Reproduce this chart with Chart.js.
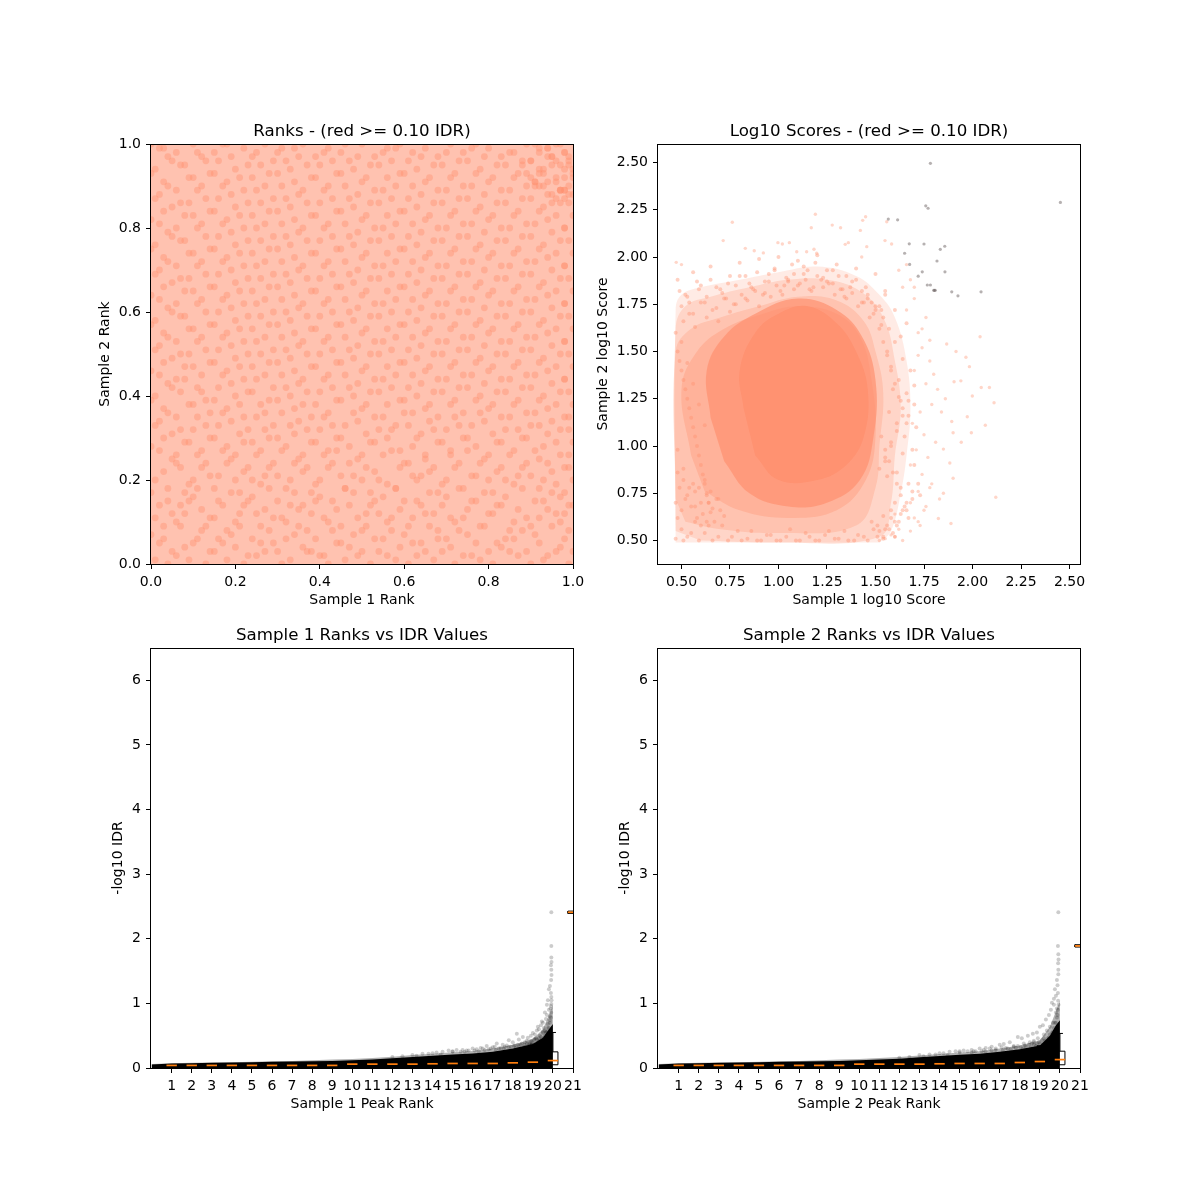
<!DOCTYPE html>
<html><head><meta charset="utf-8">
<style>html,body{margin:0;background:#fff}canvas{position:absolute}</style>
<script src="https://cdn.jsdelivr.net/npm/chart.js@4"></script></head>
<body>
<canvas id="c1" width="590" height="510" style="left:0;top:100px"></canvas>
<canvas id="c2" width="590" height="510" style="left:507px;top:100px"></canvas>
<canvas id="c3" width="590" height="510" style="left:0;top:604px"></canvas>
<canvas id="c4" width="590" height="510" style="left:507px;top:604px"></canvas>
<script>
// ---------- Panel 1: ranks, in percent (sample of the texture) ----------
const rankXPct=[
1,4,6,9,13,15,18,22,25,27,31,33,37,40,42,46,49,52,54,58,61,63,67,69,72,76,78,81,85,87,90,93,96,99,
2,5,8,11,14,17,20,23,26,30,32,36,38,41,45,47,50,53,56,59,62,65,68,71,74,77,80,83,86,89,92,94,97,100,
0,3,7,10,12,16,19,21,24,28,29,34,35,39,43,44,48,51,55,57,60,64,66,70,73,75,79,82,84,88,91,95,98,99,
1,3,6,8,13,14,18,20,25,26,31,32,37,38,42,45,49,50,54,56,61,62,67,68,72,74,78,80,85,86,90,92,96,97,
2,5,9,12,15,17,21,23,27,29,33,35,39,41,44,47,51,53,57,59,63,65,69,71,75,77,81,83,87,89,93,94,98,100,
0,4,7,10,11,16,19,22,24,28,30,34,36,40,43,46,48,52,55,58,60,64,66,70,73,76,79,82,84,88,91,95,97,99,
1,4,8,9,14,15,20,21,26,27,32,33,38,39,45,46,50,52,56,58,62,63,68,69,74,76,80,81,86,87,92,93,96,98,
3,6,10,12,16,18,22,24,28,30,34,36,40,42,47,48,53,54,59,60,64,66,70,72,77,78,82,84,88,90,94,95,99,100,
2,5,7,11,13,17,19,23,25,29,31,35,37,41,43,44,49,51,55,57,61,65,67,71,73,75,79,83,85,89,91,92,97,98,
0,3,6,9,12,14,18,20,24,26,30,32,36,38,42,45,47,50,53,56,59,62,65,68,71,74,77,80,83,86,89,93,96,99,
1,5,8,10,15,16,21,22,27,28,33,34,39,40,44,46,51,52,57,58,63,64,69,70,75,76,81,82,87,88,92,94,97,100,
2,4,7,11,13,17,19,23,25,29,31,35,37,41,43,48,49,54,55,60,61,66,67,72,73,78,79,84,85,90,91,95,98,99,
0,3,6,10,14,15,18,22,26,27,30,34,38,39,42,45,50,53,56,59,62,65,68,71,74,77,80,83,86,89,92,94,96,99,
1,5,9,12,13,16,20,21,24,28,32,33,36,40,44,47,48,51,54,57,60,63,66,69,72,75,78,81,84,87,90,93,97,100,
2,4,7,8,11,17,19,23,25,29,31,35,37,41,43,46,49,52,55,58,61,64,67,70,73,76,79,82,85,88,91,95,98,99,
0,3,6,10,12,15,18,22,24,27,30,34,36,39,42,45,50,53,56,59,62,65,68,71,74,77,80,83,86,89,92,94,96,98,
1,5,8,9,14,16,20,21,26,28,32,33,38,40,44,47,48,51,54,57,60,63,66,69,72,75,78,81,84,87,90,93,97,100,
2,4,7,11,13,17,19,23,25,29,31,35,37,41,43,46,49,52,55,58,61,64,67,70,73,76,79,82,85,88,91,95,98,99,
0,3,6,10,12,15,18,22,24,27,30,34,36,39,42,45,50,53,56,59,62,65,68,71,74,77,80,83,86,89,92,94,96,98,
1,5,9,8,14,16,20,21,26,28,32,33,38,40,44,47,48,51,54,57,60,63,66,69,72,75,78,81,84,87,90,93,97,100,
2,4,7,11,13,17,19,23,25,29,31,35,37,41,43,46,49,52,55,58,61,64,67,70,73,76,79,82,85,88,91,95,98,99,
0,3,6,10,12,15,18,22,24,27,30,34,36,39,42,45,50,53,56,59,62,65,68,71,74,77,80,83,86,89,92,94,96,98,
1,5,8,9,14,16,20,21,26,28,32,33,38,40,44,47,48,51,54,57,60,63,66,69,72,75,78,81,84,87,90,93,97,100,
2,4,7,11,13,17,19,23,25,29,31,35,37,41,43,46,49,52,55,58,61,64,67,70,73,76,79,82,85,88,91,95,98,99,
0,3,6,10,12,15,18,22,24,27,30,34,36,39,42,45,50,53,56,59,62,65,68,71,74,77,80,83,86,89,92,94,96,98,
1,5,9,8,14,16,20,21,26,28,32,33,38,40,44,47,48,51,54,57,60,63,66,69,72,75,78,81,84,87,90,93,97,100,
2,4,7,11,13,17,19,23,25,29,31,35,37,41,43,46,49,52,55,58,61,64,67,70,73,76,79,82,85,88,91,95,98,99,
0,3,6,10,12,15,18,22,24,27,30,34,36,39,42,45,50,53,56,59,62,65,68,71,74,77,80,83,86,89,92,94,96,98,
1,5,8,9,14,16,20,21,26,28,32,33,38,40,44,47,48,51,54,57,60,63,66,69,72,75,78,81,84,87,90,93,97,100,
2,4,7,11,13,17,19,23,25,29,31,35,37,41,43,46,49,52,55,58,61,64,67,70,73,76,79,82,85,88,91,95,98,99,
0,3,6,10,12,15,18,22,24,27,30,34,36,39,42,45,50,53,56,59,62,65,68,71,74,77,80,83,86,89,92,94,96,98,
1,5,9,8,14,16,20,21,26,28,32,33,38,40,44,47,48,51,54,57,60,63,66,69,72,75,78,81,84,87,90,93,97,100,
2,4,7,11,13,17,19,23,25,29,31,35,37,41,43,46,49,52,55,58,61,64,67,70,73,76,79,82,85,88,91,95,98,99,
0,3,6,10,12,15,18,22,24,27,30,34,36,39,42,45,50,53,56,59,62,65,68,71,74,77,80,83,86,89,92,94,96,98,
90,92,94,96,97,98,99,100,93,95,97,99,91,94,96,98,100,92,95,97,89,93,96,99,88,91,94,98,100,97,95,92,99,90];
const rankYPct=[
1,0,2,1,0,3,1,0,2,3,0,1,3,2,0,1,2,0,3,1,0,2,1,3,0,2,1,0,3,2,0,1,3,0,
5,3,4,6,3,5,4,2,5,3,6,4,3,2,5,4,3,6,2,4,5,3,6,4,2,5,3,4,6,3,5,2,4,3,
7,6,9,5,8,6,7,9,6,8,5,7,9,6,8,5,7,9,6,8,7,5,9,6,8,7,9,5,6,8,7,9,6,8,
11,9,10,12,9,11,8,10,12,9,11,10,8,12,10,9,11,8,12,10,9,11,12,8,10,11,9,12,8,10,9,11,12,10,
14,12,15,13,11,14,12,15,13,11,14,13,15,11,13,14,12,15,11,13,15,12,14,11,13,15,12,14,13,11,15,13,12,14,
17,15,14,16,18,15,17,14,16,18,15,17,14,16,15,18,17,14,16,18,15,14,17,16,18,15,17,14,16,18,15,17,16,14,
20,18,17,19,21,18,20,17,19,21,18,20,17,19,21,18,20,17,19,18,21,20,17,19,18,21,20,17,19,21,18,20,19,17,
22,24,20,23,21,24,22,20,23,21,24,22,20,23,24,21,22,20,23,24,21,22,20,23,21,24,22,20,23,21,24,22,23,20,
27,25,23,26,24,27,25,23,26,24,27,25,23,26,24,27,25,23,26,27,24,25,23,26,24,27,25,23,26,24,27,25,26,23,
28,30,26,29,27,30,28,26,29,27,30,28,26,29,27,30,28,26,29,30,27,28,26,29,27,30,28,26,29,27,30,28,29,26,
33,31,29,32,30,33,31,29,32,30,33,31,29,32,30,33,31,29,32,33,30,31,29,32,30,33,31,29,32,30,33,31,32,29,
34,36,32,35,33,36,34,32,35,33,36,34,32,35,33,36,34,32,35,36,33,34,32,35,33,36,34,32,35,33,36,34,35,32,
39,37,35,38,36,39,37,35,38,36,39,37,35,38,36,39,37,35,38,39,36,37,35,38,36,39,37,35,38,36,39,37,38,35,
40,42,38,41,39,42,40,38,41,39,42,40,38,41,39,42,40,38,41,42,39,40,38,41,39,42,40,38,41,39,42,40,41,38,
45,43,41,44,42,45,43,41,44,42,45,43,41,44,42,45,43,41,44,45,42,43,41,44,42,45,43,41,44,42,45,43,44,41,
46,48,44,47,45,48,46,44,47,45,48,46,44,47,45,48,46,44,47,48,45,46,44,47,45,48,46,44,47,45,48,46,47,44,
51,49,47,50,48,51,49,47,50,48,51,49,47,50,48,51,49,47,50,51,48,49,47,50,48,51,49,47,50,48,51,49,50,47,
52,54,50,53,51,54,52,50,53,51,54,52,50,53,51,54,52,50,53,54,51,52,50,53,51,54,52,50,53,51,54,52,53,50,
57,55,53,56,54,57,55,53,56,54,57,55,53,56,54,57,55,53,56,57,54,55,53,56,54,57,55,53,56,54,57,55,56,53,
58,60,56,59,57,60,58,56,59,57,60,58,56,59,57,60,58,56,59,60,57,58,56,59,57,60,58,56,59,57,60,58,59,56,
63,61,59,62,60,63,61,59,62,60,63,61,59,62,60,63,61,59,62,63,60,61,59,62,60,63,61,59,62,60,63,61,62,59,
64,66,62,65,63,66,64,62,65,63,66,64,62,65,63,66,64,62,65,66,63,64,62,65,63,66,64,62,65,63,66,64,65,62,
69,67,65,68,66,69,67,65,68,66,69,67,65,68,66,69,67,65,68,69,66,67,65,68,66,69,67,65,68,66,69,67,68,65,
70,72,68,71,69,72,70,68,71,69,72,70,68,71,69,72,70,68,71,72,69,70,68,71,69,72,70,68,71,69,72,70,71,68,
75,73,71,74,72,75,73,71,74,72,75,73,71,74,72,75,73,71,74,75,72,73,71,74,72,75,73,71,74,72,75,73,74,71,
76,78,74,77,75,78,76,74,77,75,78,76,74,77,75,78,76,74,77,78,75,76,74,77,75,78,76,74,77,75,78,76,77,74,
81,79,77,80,78,81,79,77,80,78,81,79,77,80,78,81,79,77,80,81,78,79,77,80,78,81,79,77,80,78,81,79,80,77,
82,84,80,83,81,84,82,80,83,81,84,82,80,83,81,84,82,80,83,84,81,82,80,83,81,84,82,80,83,81,84,82,83,80,
87,85,83,86,84,87,85,83,86,84,87,85,83,86,84,87,85,83,86,87,84,85,83,86,84,87,85,83,86,84,87,85,86,83,
88,90,86,89,87,90,88,86,89,87,90,88,86,89,87,90,88,86,89,90,87,88,86,89,87,90,88,86,89,87,90,88,89,86,
93,91,89,92,90,93,91,89,92,90,93,91,89,92,90,93,91,89,92,93,90,91,89,92,90,93,91,89,92,90,93,91,92,89,
94,96,92,95,93,96,94,92,95,93,96,94,92,95,93,96,94,92,95,96,93,94,92,95,93,96,94,92,95,93,96,94,95,92,
99,97,95,98,96,100,97,95,98,96,99,97,95,98,96,100,97,95,98,99,96,97,95,98,96,99,97,95,98,96,100,97,98,95,
100,99,98,100,97,98,100,99,97,100,98,99,100,97,99,98,100,97,99,100,98,99,97,100,98,100,99,97,98,100,99,97,100,98,
92,90,88,91,89,94,96,88,93,95,89,97,91,99,87,92,94,98,86,100,93,90,96,88,95,91,99,87,93,89,97,94,90,96];

// ---------- Panel 2: log10 scores ----------
const grayX=[1.783,2.453,1.759,1.771,1.566,1.614,1.674,1.75,1.857,1.834,1.65,1.817,1.676,1.858,1.741,1.72,1.767,1.783,1.80,1.804,1.808,1.893,1.925,2.044];
const grayY=[2.496,2.289,2.271,2.258,2.201,2.197,2.07,2.069,2.057,2.041,2.02,1.979,1.961,1.922,1.922,1.899,1.852,1.852,1.824,1.824,1.824,1.816,1.795,1.816];
const outerX=[.473,.5,.762,.715,1.19,1.169,1.277,1.32,1.449,1.434,1.422,1.558,1.549,1.583,1.36,1.344,.997,1.02,1.056,.829,.875,.922,1.183,1.145,1.197,1.094,1.455,1.429,
2.039,2.045,2.087,2.111,1.999,1.973,2.066,1.994,1.942,2.12,1.889,1.824,1.85,1.9,1.883,1.85,1.9,1.893,1.94,1.905,1.966,1.984,1.915,1.867,
1.72,1.74,1.78,1.7,1.76,1.82,1.79,1.73,1.69,1.75,1.81,1.84,1.71,1.77,1.68,1.74,1.79,1.83,1.72,1.76,1.86,1.7,1.73,1.78,1.68,1.75,1.8,1.72,1.66,1.7,1.76,1.64,1.68,1.74,1.62,1.66,1.7,1.78,1.6,1.64,1.72,1.58,1.62,1.55,1.52,1.68,1.6];
const outerY=[1.972,1.96,2.184,2.087,2.226,2.155,2.169,2.155,2.213,2.194,2.141,2.187,2.087,2.069,2.076,2.067,2.076,2.069,2.076,2.046,2.033,2.022,2.041,2.028,2.02,2.028,2.055,2.0,
1.578,1.31,1.31,1.229,1.265,1.155,1.11,1.07,1.02,.729,.59,.617,.75,.83,.91,.984,1.07,1.13,1.345,1.34,1.47,1.42,1.5,1.54,
1.6,1.52,1.45,1.4,1.33,1.3,1.22,1.18,1.12,1.06,1.02,1.18,.98,.94,.9,.85,.8,.72,.76,.68,1.25,.62,.58,.78,.55,.66,1.38,1.48,1.72,1.78,1.68,1.84,1.88,1.62,1.93,1.96,1.84,1.56,.52,.5,.6,.53,.56,.51,.5,.7,.64];
const ringX=[.48,.52,.56,.6,.65,.7,.75,.8,.85,.9,.95,1.0,1.05,1.1,1.15,1.2,1.25,1.3,1.35,1.4,1.45,1.5,1.55,
.49,.54,.58,.63,.68,.73,.78,.83,.88,.93,.98,1.03,1.08,1.13,1.18,1.23,1.28,1.33,1.38,1.43,1.48,1.53,
.47,.5,.53,.57,.62,.66,.71,.76,.81,.86,.91,.96,1.01,1.06,1.11,1.16,1.21,1.26,1.31,1.36,1.41,1.46,1.51,
.48,.51,.55,.59,.64,.69,.74,.79,.84,.89,.94,.99,1.04,1.09,1.14,1.19,1.24,1.29,1.34,1.39,1.44,1.49,1.54,
.47,.5,.52,.55,.58,.61,.64,.67,.7,.49,.53,.57,.6,.63,.66,.69,.72,.48,.51,.56,.59,.62,.65,.68,
1.56,1.58,1.6,1.62,1.64,1.66,1.68,1.7,1.57,1.59,1.61,1.63,1.65,1.67,1.69,1.71,1.55,1.58,1.61,1.64,1.67,1.7,1.73,1.56,1.6,1.63,1.66,1.69,1.72,
1.54,1.57,1.6,1.63,1.66,1.58,1.61,1.64,1.55,1.59,1.62,1.52,1.56,1.6,1.48,1.54,1.58,1.46,1.5,1.55,
.5,.53,.56,.59,.62,.65,.68,.71,.74,.77,.8,.83,.86,.89,.92,.95,.98,1.01,1.04,1.07,1.1,1.13,1.16,1.19,1.22,1.25,1.28,1.31,1.34,1.37,1.4,1.43,1.46,1.49,1.52,
.51,.54,.57,.6,.63,.66,.69,.72,.75,.78,.81,.84,.87,.9,.93,.96,.99,1.02,1.05,1.08,1.11,1.14,1.17,1.2,1.23,1.26,1.29,1.32,1.35,1.38,1.41,1.44,1.47,1.5,1.53,
.48,.5,.52,.54,.56,.58,.6,.62,.64,.49,.51,.53,.55,.57,.59,.61,.63,.65,.47,.5,.53,.56,.59,.62,.48,.51,.54,.57,.6,.63,
1.52,1.54,1.56,1.58,1.6,1.62,1.64,1.66,1.53,1.55,1.57,1.59,1.61,1.63,1.65,1.67,1.51,1.54,1.57,1.6,1.63,1.66,1.69,1.52,1.55,1.58,1.61,1.64,1.67,1.7];
const ringY=[1.88,1.8,1.92,1.85,1.95,1.83,1.9,1.97,1.86,1.99,1.91,2.0,1.88,1.98,1.93,2.01,1.87,1.96,1.9,1.94,1.84,1.91,1.82,
1.82,1.76,1.87,1.79,1.84,1.78,1.85,1.9,1.82,1.87,1.93,1.85,1.91,1.95,1.84,1.89,1.93,1.83,1.87,1.82,1.76,1.72,
.51,.56,.52,.6,.54,.5,.58,.52,.5,.55,.5,.53,.5,.56,.5,.52,.5,.55,.51,.5,.53,.5,.52,
.62,.5,.54,.5,.58,.52,.5,.55,.51,.5,.53,.5,.52,.5,.54,.5,.53,.51,.55,.5,.52,.56,.51,
.7,.66,.72,.68,.62,.64,.7,.6,.66,.78,.74,.76,.7,.74,.67,.72,.63,.86,.82,.8,.78,.82,.76,.72,
1.5,1.42,1.55,1.35,1.46,1.28,1.4,1.22,1.18,1.3,1.12,1.24,1.05,1.16,.98,1.1,.92,1.02,.86,.96,.8,.9,.74,.84,.7,.78,.66,.72,.8,
1.68,1.62,1.72,1.58,1.65,.62,.58,.66,.56,.54,.6,.55,.58,.52,.6,.63,.66,1.78,1.74,1.8,
1.74,1.79,1.7,1.83,1.76,1.88,1.73,1.81,1.86,1.75,1.9,1.78,1.84,1.92,1.8,1.87,1.94,1.82,1.89,1.96,1.85,1.91,1.83,1.97,1.88,1.93,1.86,1.9,1.79,1.84,1.88,1.76,1.8,1.7,1.74,
1.66,1.7,1.63,1.76,1.68,1.72,1.66,1.78,1.71,1.75,1.8,1.77,1.83,1.74,1.81,1.79,1.85,1.8,1.87,1.83,1.86,1.88,1.82,1.9,1.84,1.86,1.8,1.83,1.78,1.81,1.74,1.76,1.68,1.72,1.64,
1.5,1.4,1.3,1.2,1.1,1.0,.9,.8,.7,1.45,1.35,1.25,1.15,1.05,.95,.85,.75,.65,1.6,1.55,1.44,1.33,1.22,1.11,.98,.88,.78,.68,.58,.6,
1.62,1.55,1.48,1.4,1.33,1.26,1.2,1.12,1.05,.98,.92,.86,.8,.74,.68,.62,.58,.52,.56,.6,.64,.7,.76,.88,.94,1.0,1.08,1.16,1.24,1.32];
const contourAX=[.47,.47,.5,.6,.8,1.0,1.2,1.4,1.52,1.6,1.66,1.68,1.66,1.63,1.58,1.52];
const contourAY=[.49,1.72,1.8,1.84,1.88,1.92,1.95,1.9,1.8,1.68,1.45,1.2,.95,.75,.55,.49];
const contourBX=[.47,.47,.52,.65,.85,1.05,1.25,1.42,1.54,1.6,1.63,1.6,1.58,1.52,1.0,.6];
const contourBY=[.55,1.62,1.74,1.79,1.84,1.88,1.88,1.82,1.68,1.45,1.2,.95,.7,.52,.49,.5];
const contourCX=[.47,.47,.55,.7,.9,1.1,1.3,1.44,1.5,1.54,1.52,1.5,1.4,1.0,.7,.52];
const contourCY=[.72,1.5,1.62,1.68,1.74,1.79,1.77,1.66,1.5,1.28,1.0,.78,.58,.54,.56,.6];
const contourDX=[.55,.5,.58,.72,.92,1.1,1.3,1.42,1.48,1.5,1.45,1.3,1.05,.8,.62];
const contourDY=[.95,1.3,1.5,1.62,1.7,1.74,1.7,1.58,1.35,1.05,.82,.66,.62,.66,.76];
const contourEX=[.65,.63,.72,.88,1.1,1.3,1.43,1.5,1.49,1.42,1.25,1.05,.85,.72];
const contourEY=[1.15,1.4,1.58,1.7,1.78,1.72,1.58,1.35,1.05,.82,.7,.68,.75,.92];
const coreX=[.82,.8,.88,1.0,1.15,1.3,1.4,1.46,1.44,1.35,1.2,1.0,.88];
const coreY=[1.2,1.4,1.6,1.7,1.74,1.65,1.5,1.3,1.05,.9,.82,.82,.95];

// ---------- Panels 3 and 4: peak rank vs -log10 IDR ----------
const bandX=[0,1,2,3,4,5,6,7,8,9,10,11,12,13,14,15,16,17,18,19,19.5,19.8,20];
const band1Solid=[.055,.07,.075,.08,.085,.09,.095,.1,.105,.11,.12,.13,.15,.17,.19,.21,.225,.25,.3,.37,.47,.6,.68];
const band1Haze=[.06,.075,.08,.085,.09,.095,.105,.11,.12,.13,.14,.155,.175,.2,.22,.245,.265,.3,.36,.45,.6,.82,.98];
const band2Solid=[.055,.07,.075,.08,.085,.09,.095,.1,.105,.11,.12,.13,.145,.165,.185,.205,.22,.25,.29,.35,.5,.66,.74];
const band2Haze=[.06,.075,.08,.085,.09,.095,.105,.11,.12,.13,.14,.155,.17,.195,.215,.24,.26,.3,.35,.43,.64,.88,1.04];
const dots1X=[19.92,19.92,19.92,19.93,19.9,19.92,19.93,19.91,19.85,19.8,19.9,19.7,19.75,19.92,19.88,19.6,19.7,19.85,19.5,19.4,19.55,19.3,19.2,19.65,19.45,19.1,19,18.9,19.25,18.75,18.5,18.2,18.3,18,17.8,17.5,17.2,17,16.7,16.4,16,15.5,15,14.5,14,13.5,13,18.6,18.9,19.15,19.35,19.6,19.75,19.85,19.9,19.8,19.65,19.5,19.3,19.05,18.8,18.4,18.1,17.6,16.9,15.8,19.93,19.92,19.91,19.9,
14.2,14.8,15.2,15.7,16.2,16.5,16.8,17.1,17.3,17.7,17.9,18.05,18.25,18.45,18.6,18.7,18.85,18.95,19.1,19.2,19.3,19.4,19.5,19.6,19.7,19.8,13.2,13.8,15,15.4,16.1,16.6,17.4,17.8,18.3,18.7,19,19.25,19.45,19.65,19.75,19.85,12.5,12,14.4,15.6,16.3,17.15,17.55,18.15,18.55,18.8,19.15,19.35,19.55];
const dots1Y=[2.41,1.89,1.71,1.64,1.59,1.52,1.44,1.36,1.27,1.22,1.16,.98,1.05,1.1,.92,.86,.82,.8,.7,.66,.62,.6,.58,.56,.72,.52,.54,.5,.64,.47,.48,.53,.44,.4,.43,.36,.38,.32,.34,.31,.3,.28,.26,.25,.23,.22,.2,.4,.42,.46,.5,.58,.68,.74,.96,.9,.76,.54,.46,.44,.38,.36,.35,.33,.3,.27,1.05,.99,.86,.78,
.24,.27,.28,.27,.29,.3,.29,.33,.3,.35,.33,.34,.36,.38,.36,.42,.38,.41,.45,.44,.42,.48,.56,.5,.56,.62,.19,.22,.25,.25,.27,.28,.31,.32,.34,.37,.39,.4,.45,.54,.62,.7,.18,.17,.21,.25,.26,.28,.3,.31,.33,.35,.39,.41,.47];
const dots2X=[19.92,19.9,19.92,19.93,19.91,19.92,19.85,19.92,19.75,19.88,19.7,19.8,19.6,19.45,19.55,19.3,19.15,19,18.85,19.7,18.65,18.4,18.1,17.9,17.5,17.2,17,16.6,16.3,16,15.6,15,14.5,14,13.5,13,19.9,19.85,19.8,19.65,19.5,19.35,19.2,18.9,18.7,18.5,18.2,17.7,16.8,15.8,19.91,19.93,19.9,19.88,
14.2,14.8,15.2,15.7,16.2,16.5,16.8,17.1,17.3,17.7,17.9,18.05,18.25,18.45,18.6,18.7,18.85,18.95,19.1,19.2,19.3,19.4,19.5,19.6,19.7,19.8,13.2,13.8,15,15.4,16.1,16.6,17.4,17.8,18.3,18.7,19,19.25,19.45,19.65,19.75,19.85,12.5,12,14.4,15.6,16.3,17.15,17.55,18.15,18.55,18.8,19.15,19.35,19.55];
const dots2Y=[2.41,1.89,1.76,1.68,1.62,1.52,1.36,1.45,1.22,1.28,1.07,1.12,1.01,.82,.9,.75,.66,.64,.55,.98,.53,.5,.46,.48,.4,.37,.36,.33,.31,.3,.28,.26,.25,.23,.21,.2,1.16,.92,.86,.7,.64,.58,.52,.46,.42,.4,.38,.34,.3,.26,1.04,.98,.9,.82,
.23,.26,.27,.26,.28,.3,.28,.32,.31,.33,.34,.32,.35,.36,.38,.4,.37,.4,.43,.46,.41,.46,.52,.54,.62,.7,.18,.21,.24,.26,.26,.27,.3,.31,.33,.36,.38,.42,.47,.56,.7,.78,.17,.16,.2,.24,.25,.27,.29,.3,.32,.34,.37,.4,.48];
const medianX=[1,2,3,4,5,6,7,8,9,10,11,12,13,14,15,16,17,18,19,20,21];
const median1=[.04,.04,.04,.04,.04,.04,.04,.04,.04,.06,.06,.06,.06,.065,.07,.07,.07,.08,.09,.115,2.41];
const median2=[.04,.04,.04,.04,.04,.04,.04,.04,.04,.06,.06,.06,.06,.065,.07,.07,.07,.085,.1,.13,1.89];
const boxX=[19.75,20.25,20.25,19.75,19.75];
const box1Y=[.05,.05,.25,.25,.05];
const box2Y=[.05,.05,.26,.26,.05];
const whiskerX=[20,20];
const whisker1Y=[.25,.55];
const whisker2Y=[.26,.535];
const cap20X=[19.85,20.15];
const cap19X=[18.85,19.15];
const cap1Top=.55, cap1At19=.37, cap2Top=.535, cap2At19=.345;
const outlierBoxX=[20.75,21.1,21.1,20.75,20.75];

const ticksUnit=[0,.2,.4,.6,.8,1];
const ticksScore=[.5,.75,1,1.25,1.5,1.75,2,2.25,2.5];
const ticksIdr=[0,1,2,3,4,5,6];
const ticksPeak=[1,2,3,4,5,6,7,8,9,10,11,12,13,14,15,16,17,18,19,20,21];

const SALMON='255,146,113';
const FONT='"DejaVu Sans"';
const zip=(xs,ys)=>xs.map((x,i)=>({x,y:ys[i]}));
Chart.defaults.font.family=FONT;
Chart.defaults.color='#000';

const frame={id:'frame',
 beforeDatasetsDraw(c,a,o){if(o.wash){const r=c.chartArea;c.ctx.save();c.ctx.fillStyle=o.wash;c.ctx.fillRect(r.left,r.top,r.right-r.left,r.bottom-r.top);c.ctx.restore();}},
 afterDraw(c){const r=c.chartArea,x=c.ctx;x.save();x.strokeStyle='#000';x.lineWidth=1;const L=Math.round(r.left)-.5,T=Math.round(r.top)+.5;x.strokeRect(L,T,Math.round(r.right)+.5-L,Math.round(r.bottom)+.5-T);x.restore();}};
Chart.register(frame);

function axis(min,max,vals,fmt,label,fitKey,fitVal){
 return {type:'linear',min,max,
  afterBuildTicks:s=>{s.ticks=vals.map(v=>({value:v}));},
  afterFit:s=>{s[fitKey]=fitVal;},
  ticks:{autoSkip:false,maxRotation:0,minRotation:0,padding:5,font:{size:14},color:'#000',callback:fmt},
  grid:{drawOnChartArea:false,drawTicks:true,tickLength:5,tickColor:'#000',tickWidth:1},
  border:{display:false},
  title:{display:true,text:label,color:'#000',font:{size:14},padding:{top:0,bottom:1}}};
}
function panel(id,title,datasets,xa,ya,padLeft,wash){
 new Chart(document.getElementById(id),{type:'scatter',data:{datasets},
  options:{responsive:false,animation:false,events:[],devicePixelRatio:1,
   layout:{padding:{left:padLeft,right:17,top:22,bottom:0}},
   plugins:{legend:{display:false},tooltip:{enabled:false},frame:{wash},
    title:{display:true,text:title,color:'#000',fullSize:false,font:{size:16.67,weight:'normal'},padding:{top:0,bottom:2}}},
   scales:{x:xa,y:ya}}});
}
const f1=v=>v.toFixed(1), f2=v=>v.toFixed(2), f0=v=>String(v);
const pts=(data,color,r)=>({data,backgroundColor:color,borderWidth:0,pointBorderWidth:0,pointRadius:r,pointHoverRadius:r,showLine:false});
const shape=(data,color)=>({data,showLine:true,fill:'shape',backgroundColor:color,borderWidth:0,pointRadius:0,tension:.4});
const path=(data,w)=>({data,showLine:true,borderColor:'#000',borderWidth:w||1,pointRadius:0,fill:false,clip:false});

panel('c1','Ranks - (red >= 0.10 IDR)',[
  pts(zip(rankXPct,rankYPct).map(p=>({x:p.x/100,y:p.y/100})),`rgba(${SALMON},.42)`,3.4)
 ],
 axis(0,1,ticksUnit,f1,'Sample 1 Rank','height',46),
 axis(0,1,ticksUnit,f1,'Sample 2 Rank','width',54.4),96.6,'rgb(255,194,176)');

panel('c2','Log10 Scores - (red >= 0.10 IDR)',[
  pts(zip(grayX,grayY),'rgba(110,100,100,.5)',1.6),
  pts(zip(outerX,outerY),`rgba(${SALMON},.38)`,1.7),
  pts(zip(ringX,ringY),`rgba(${SALMON},.42)`,2),
  shape(zip(coreX,coreY),`rgb(${SALMON})`),
  shape(zip(contourEX,contourEY),`rgba(${SALMON},.7)`),
  shape(zip(contourDX,contourDY),`rgba(${SALMON},.35)`),
  shape(zip(contourCX,contourCY),`rgba(${SALMON},.28)`),
  shape(zip(contourBX,contourBY),`rgba(${SALMON},.25)`),
  shape(zip(contourAX,contourAY),`rgba(${SALMON},.18)`)
 ],
 axis(.379,2.554,ticksScore,f2,'Sample 1 log10 Score','height',46),
 axis(.376,2.598,ticksScore,f2,'Sample 2 log10 Score','width',63.4),87.6);

function idrPanel(id,title,n,solid,haze,dx,dy,med,boxY,wY,capTop,cap19){
 const top=med[med.length-1];
 panel(id,title,[
  {...pts(zip(medianX,med),'#ff7f0e',5.2),pointStyle:'line',pointBorderColor:'#ff7f0e',pointBorderWidth:1.7},
  {data:zip(outlierBoxX,[top-.018,top-.018,top+.018,top+.018,top-.018]),showLine:true,borderColor:'#000',borderWidth:1,pointRadius:0,fill:false},
  path(zip(boxX,boxY)),
  path(zip(whiskerX,wY)),
  path(zip(cap20X,[capTop,capTop])),
  path(zip(cap19X,[cap19,cap19])),
  pts(zip(dx,dy),'rgba(0,0,0,.2)',2),
  {data:zip(bandX,solid),showLine:true,fill:'origin',backgroundColor:'#000',borderWidth:0,pointRadius:0},
  {data:zip(bandX,haze),showLine:true,fill:'origin',backgroundColor:'rgba(0,0,0,.3)',borderWidth:0,pointRadius:0}
 ],
 axis(-.03,21,ticksPeak,f0,`Sample ${n} Peak Rank`,'height',46),
 axis(0,6.5,ticksIdr,f0,'-log10 IDR','width',41.4),109.6);
}
idrPanel('c3','Sample 1 Ranks vs IDR Values',1,band1Solid,band1Haze,dots1X,dots1Y,median1,box1Y,whisker1Y,cap1Top,cap1At19);
idrPanel('c4','Sample 2 Ranks vs IDR Values',2,band2Solid,band2Haze,dots2X,dots2Y,median2,box2Y,whisker2Y,cap2Top,cap2At19);
</script></body></html>
